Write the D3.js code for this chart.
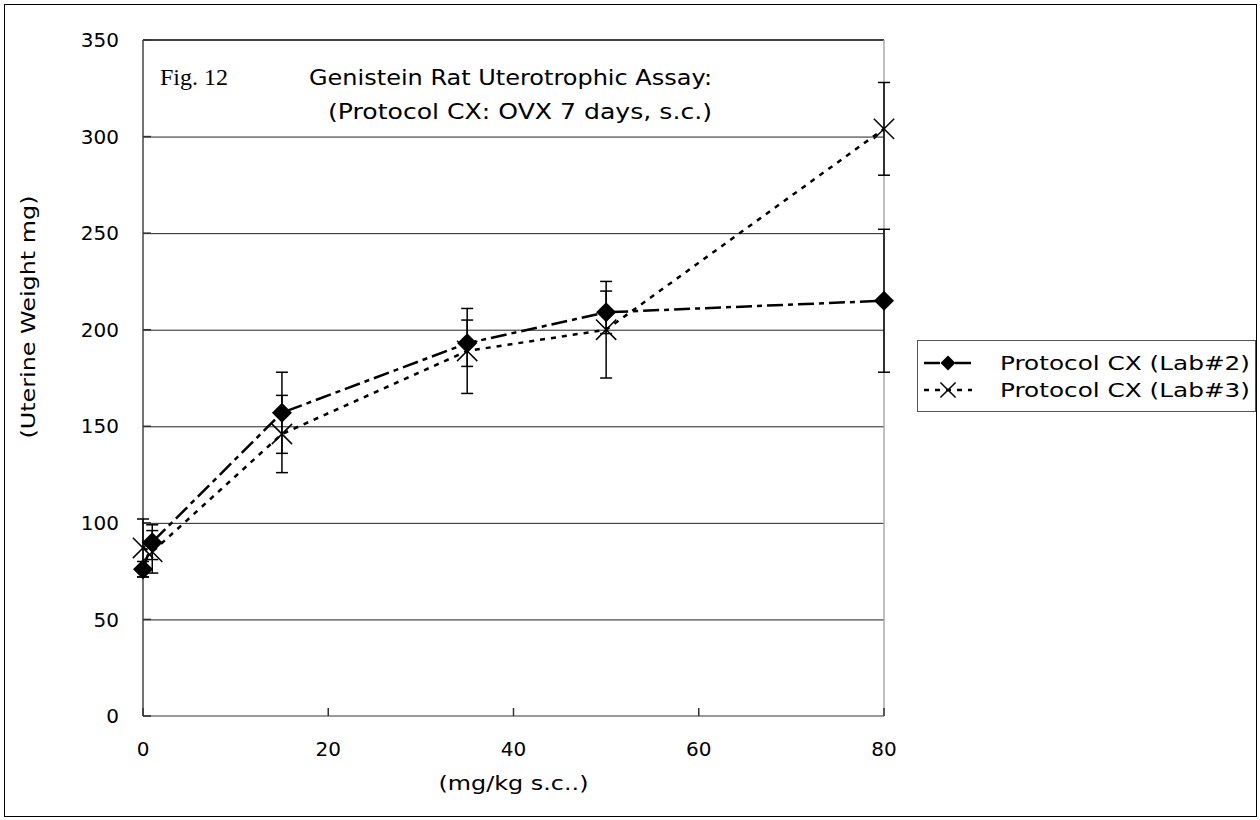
<!DOCTYPE html>
<html>
<head>
<meta charset="utf-8">
<script src="https://cdn.jsdelivr.net/npm/d3@7"></script>
<style>
  body { margin: 0; background: #fff; }
  text { font-family: "DejaVu Sans", "Liberation Sans", Arial, sans-serif; fill: #000; }
</style>
</head>
<body>
<script>
var width = 1260, height = 820;

// doses (mg/kg s.c.)
var doses = [0, 1, 15, 35, 50, 80];
// Protocol CX (Lab#2)
var lab2Mean = [76, 90, 157, 193, 209, 215];
var lab2Err = [4, 9, 21, 12, 11, 37];
// Protocol CX (Lab#3)
var lab3Mean = [87, 85, 146, 189, 200, 304];
var lab3Err = [15, 11, 20, 22, 25, 24];

var yTicks = [0, 50, 100, 150, 200, 250, 300, 350];
var xTicks = [0, 20, 40, 60, 80];
var seriesNames = ["Protocol CX (Lab#2)", "Protocol CX (Lab#3)"];

var svg = d3.select("body").append("svg")
    .attr("width", width)
    .attr("height", height);

svg.append("rect")
    .attr("x", 0).attr("y", 0)
    .attr("width", width).attr("height", height)
    .attr("fill", "#fff");

// outer frame
svg.append("rect")
    .attr("x", 4.5).attr("y", 4.5)
    .attr("width", 1252).attr("height", 812)
    .attr("fill", "none")
    .attr("stroke", "#000")
    .attr("stroke-width", 1);

var x = d3.scaleLinear().domain([0, 80]).range([143, 884]);
var y = d3.scaleLinear().domain([0, 350]).range([716, 40]);

var g = svg.append("g");

// gridlines
g.selectAll(".grid")
    .data(yTicks.filter(function(d) { return d > 0 && d < 350; }))
    .enter().append("line")
    .attr("x1", x(0)).attr("x2", x(80))
    .attr("y1", function(d) { return y(d) + 0.5; })
    .attr("y2", function(d) { return y(d) + 0.5; })
    .attr("stroke", "#222")
    .attr("stroke-width", 1);

// plot frame: top, right, bottom, left
g.append("line").attr("x1", x(0)).attr("x2", x(80)).attr("y1", y(350)).attr("y2", y(350))
    .attr("stroke", "#000").attr("stroke-width", 1.5);
g.append("line").attr("x1", x(80)).attr("x2", x(80)).attr("y1", y(350)).attr("y2", y(0))
    .attr("stroke", "#aaa").attr("stroke-width", 1.5);
g.append("line").attr("x1", x(0)).attr("x2", x(80)).attr("y1", y(0)).attr("y2", y(0))
    .attr("stroke", "#777").attr("stroke-width", 1.5);
g.append("line").attr("x1", x(0)).attr("x2", x(0)).attr("y1", y(350)).attr("y2", y(0))
    .attr("stroke", "#444").attr("stroke-width", 1.5);

// y ticks and labels
g.selectAll(".ytick")
    .data(yTicks)
    .enter().append("line")
    .attr("x1", x(0)).attr("x2", x(0) + 8)
    .attr("y1", function(d) { return y(d); })
    .attr("y2", function(d) { return y(d); })
    .attr("stroke", "#333").attr("stroke-width", 1.5);

g.selectAll(".ylab")
    .data(yTicks)
    .enter().append("text")
    .attr("x", 119)
    .attr("y", function(d) { return y(d); })
    .attr("dy", "0.36em")
    .attr("text-anchor", "end")
    .style("font-size", "20px")
    .text(function(d) { return d; });

// x ticks and labels
g.selectAll(".xtick")
    .data(xTicks)
    .enter().append("line")
    .attr("x1", function(d) { return x(d); })
    .attr("x2", function(d) { return x(d); })
    .attr("y1", y(0)).attr("y2", y(0) - 8)
    .attr("stroke", "#333").attr("stroke-width", 1.5);

g.selectAll(".xlab")
    .data(xTicks)
    .enter().append("text")
    .attr("x", function(d) { return x(d); })
    .attr("y", 756)
    .attr("text-anchor", "middle")
    .style("font-size", "20px")
    .text(function(d) { return d; });

// axis titles
svg.append("text")
    .attr("x", x(40))
    .attr("y", 790)
    .attr("text-anchor", "middle")
    .attr("textLength", 150)
    .attr("lengthAdjust", "spacingAndGlyphs")
    .style("font-size", "19px")
    .text("(mg/kg s.c..)");

svg.append("text")
    .attr("transform", "translate(35,317) rotate(-90)")
    .attr("text-anchor", "middle")
    .attr("textLength", 243)
    .attr("lengthAdjust", "spacingAndGlyphs")
    .style("font-size", "20px")
    .text("(Uterine Weight mg)");

// title
svg.append("text")
    .attr("x", 160).attr("y", 85)
    .style("font-family", "'Liberation Serif', 'Times New Roman', serif")
    .style("font-size", "24px")
    .text("Fig. 12");

svg.append("text")
    .attr("x", 309).attr("y", 85)
    .attr("textLength", 403)
    .attr("lengthAdjust", "spacingAndGlyphs")
    .style("font-size", "22px")
    .text("Genistein Rat Uterotrophic Assay:");

svg.append("text")
    .attr("x", 328).attr("y", 119)
    .attr("textLength", 384)
    .attr("lengthAdjust", "spacingAndGlyphs")
    .style("font-size", "22px")
    .text("(Protocol CX: OVX 7 days, s.c.)");

// series
var series = [
    { name: seriesNames[0], mean: lab2Mean, err: lab2Err, dash: "16,5,5,5", marker: "diamond" },
    { name: seriesNames[1], mean: lab3Mean, err: lab3Err, dash: "5,6", marker: "cross" }
];

var line = d3.line()
    .x(function(d) { return x(d.dose); })
    .y(function(d) { return y(d.mean); });

series.forEach(function(s) {
    s.points = doses.map(function(dose, i) {
        return { dose: dose, mean: s.mean[i], err: s.err[i] };
    });
});

series.forEach(function(s) {
    g.append("path")
        .datum(s.points)
        .attr("d", line)
        .attr("fill", "none")
        .attr("stroke", "#000")
        .attr("stroke-width", 2.5)
        .attr("stroke-dasharray", s.dash);
});

// error bars
series.forEach(function(s) {
    var eb = g.append("g");
    eb.selectAll("line.v")
        .data(s.points).enter().append("line")
        .attr("x1", function(d) { return x(d.dose); })
        .attr("x2", function(d) { return x(d.dose); })
        .attr("y1", function(d) { return y(d.mean - d.err); })
        .attr("y2", function(d) { return y(d.mean + d.err); })
        .attr("stroke", "#000").attr("stroke-width", 1.5);
    [-1, 1].forEach(function(sign) {
        eb.selectAll("line.c" + sign)
            .data(s.points).enter().append("line")
            .attr("x1", function(d) { return x(d.dose) - 6; })
            .attr("x2", function(d) { return x(d.dose) + 6; })
            .attr("y1", function(d) { return y(d.mean + sign * d.err); })
            .attr("y2", function(d) { return y(d.mean + sign * d.err); })
            .attr("stroke", "#000").attr("stroke-width", 1.5);
    });
});

function drawMarker(sel, type, scale) {
    if (type === "diamond") {
        sel.append("path")
            .attr("d", d3.symbol().type(d3.symbolSquare).size(200 * scale * scale)())
            .attr("transform", "rotate(45)")
            .attr("fill", "#000");
    } else {
        sel.append("path")
            .attr("d", d3.symbol().type(d3.symbolTimes).size(270 * scale * scale)())
            .attr("fill", "none")
            .attr("stroke", "#000")
            .attr("stroke-width", 1.5);
    }
}

series.forEach(function(s) {
    g.selectAll(null)
        .data(s.points).enter().append("g")
        .attr("transform", function(d) { return "translate(" + x(d.dose) + "," + y(d.mean) + ")"; })
        .each(function() { drawMarker(d3.select(this), s.marker, 1); });
});

// legend
var legend = svg.append("g");
legend.append("rect")
    .attr("x", 917.5).attr("y", 340.5)
    .attr("width", 338).attr("height", 71)
    .attr("fill", "#fff")
    .attr("stroke", "#555")
    .attr("stroke-width", 1);

series.forEach(function(s, i) {
    var ly = 363 + i * 27;
    legend.append("line")
        .attr("x1", 924).attr("x2", 972)
        .attr("y1", ly).attr("y2", ly)
        .attr("stroke", "#000")
        .attr("stroke-width", 2.5)
        .attr("stroke-dasharray", s.dash);
    var m = legend.append("g").attr("transform", "translate(948," + ly + ")");
    drawMarker(m, s.marker, 0.75);
    legend.append("text")
        .attr("x", 1000).attr("y", ly)
        .attr("dy", "0.36em")
        .attr("textLength", 250)
        .attr("lengthAdjust", "spacingAndGlyphs")
        .style("font-size", "20px")
        .text(s.name);
});
</script>
</body>
</html>
